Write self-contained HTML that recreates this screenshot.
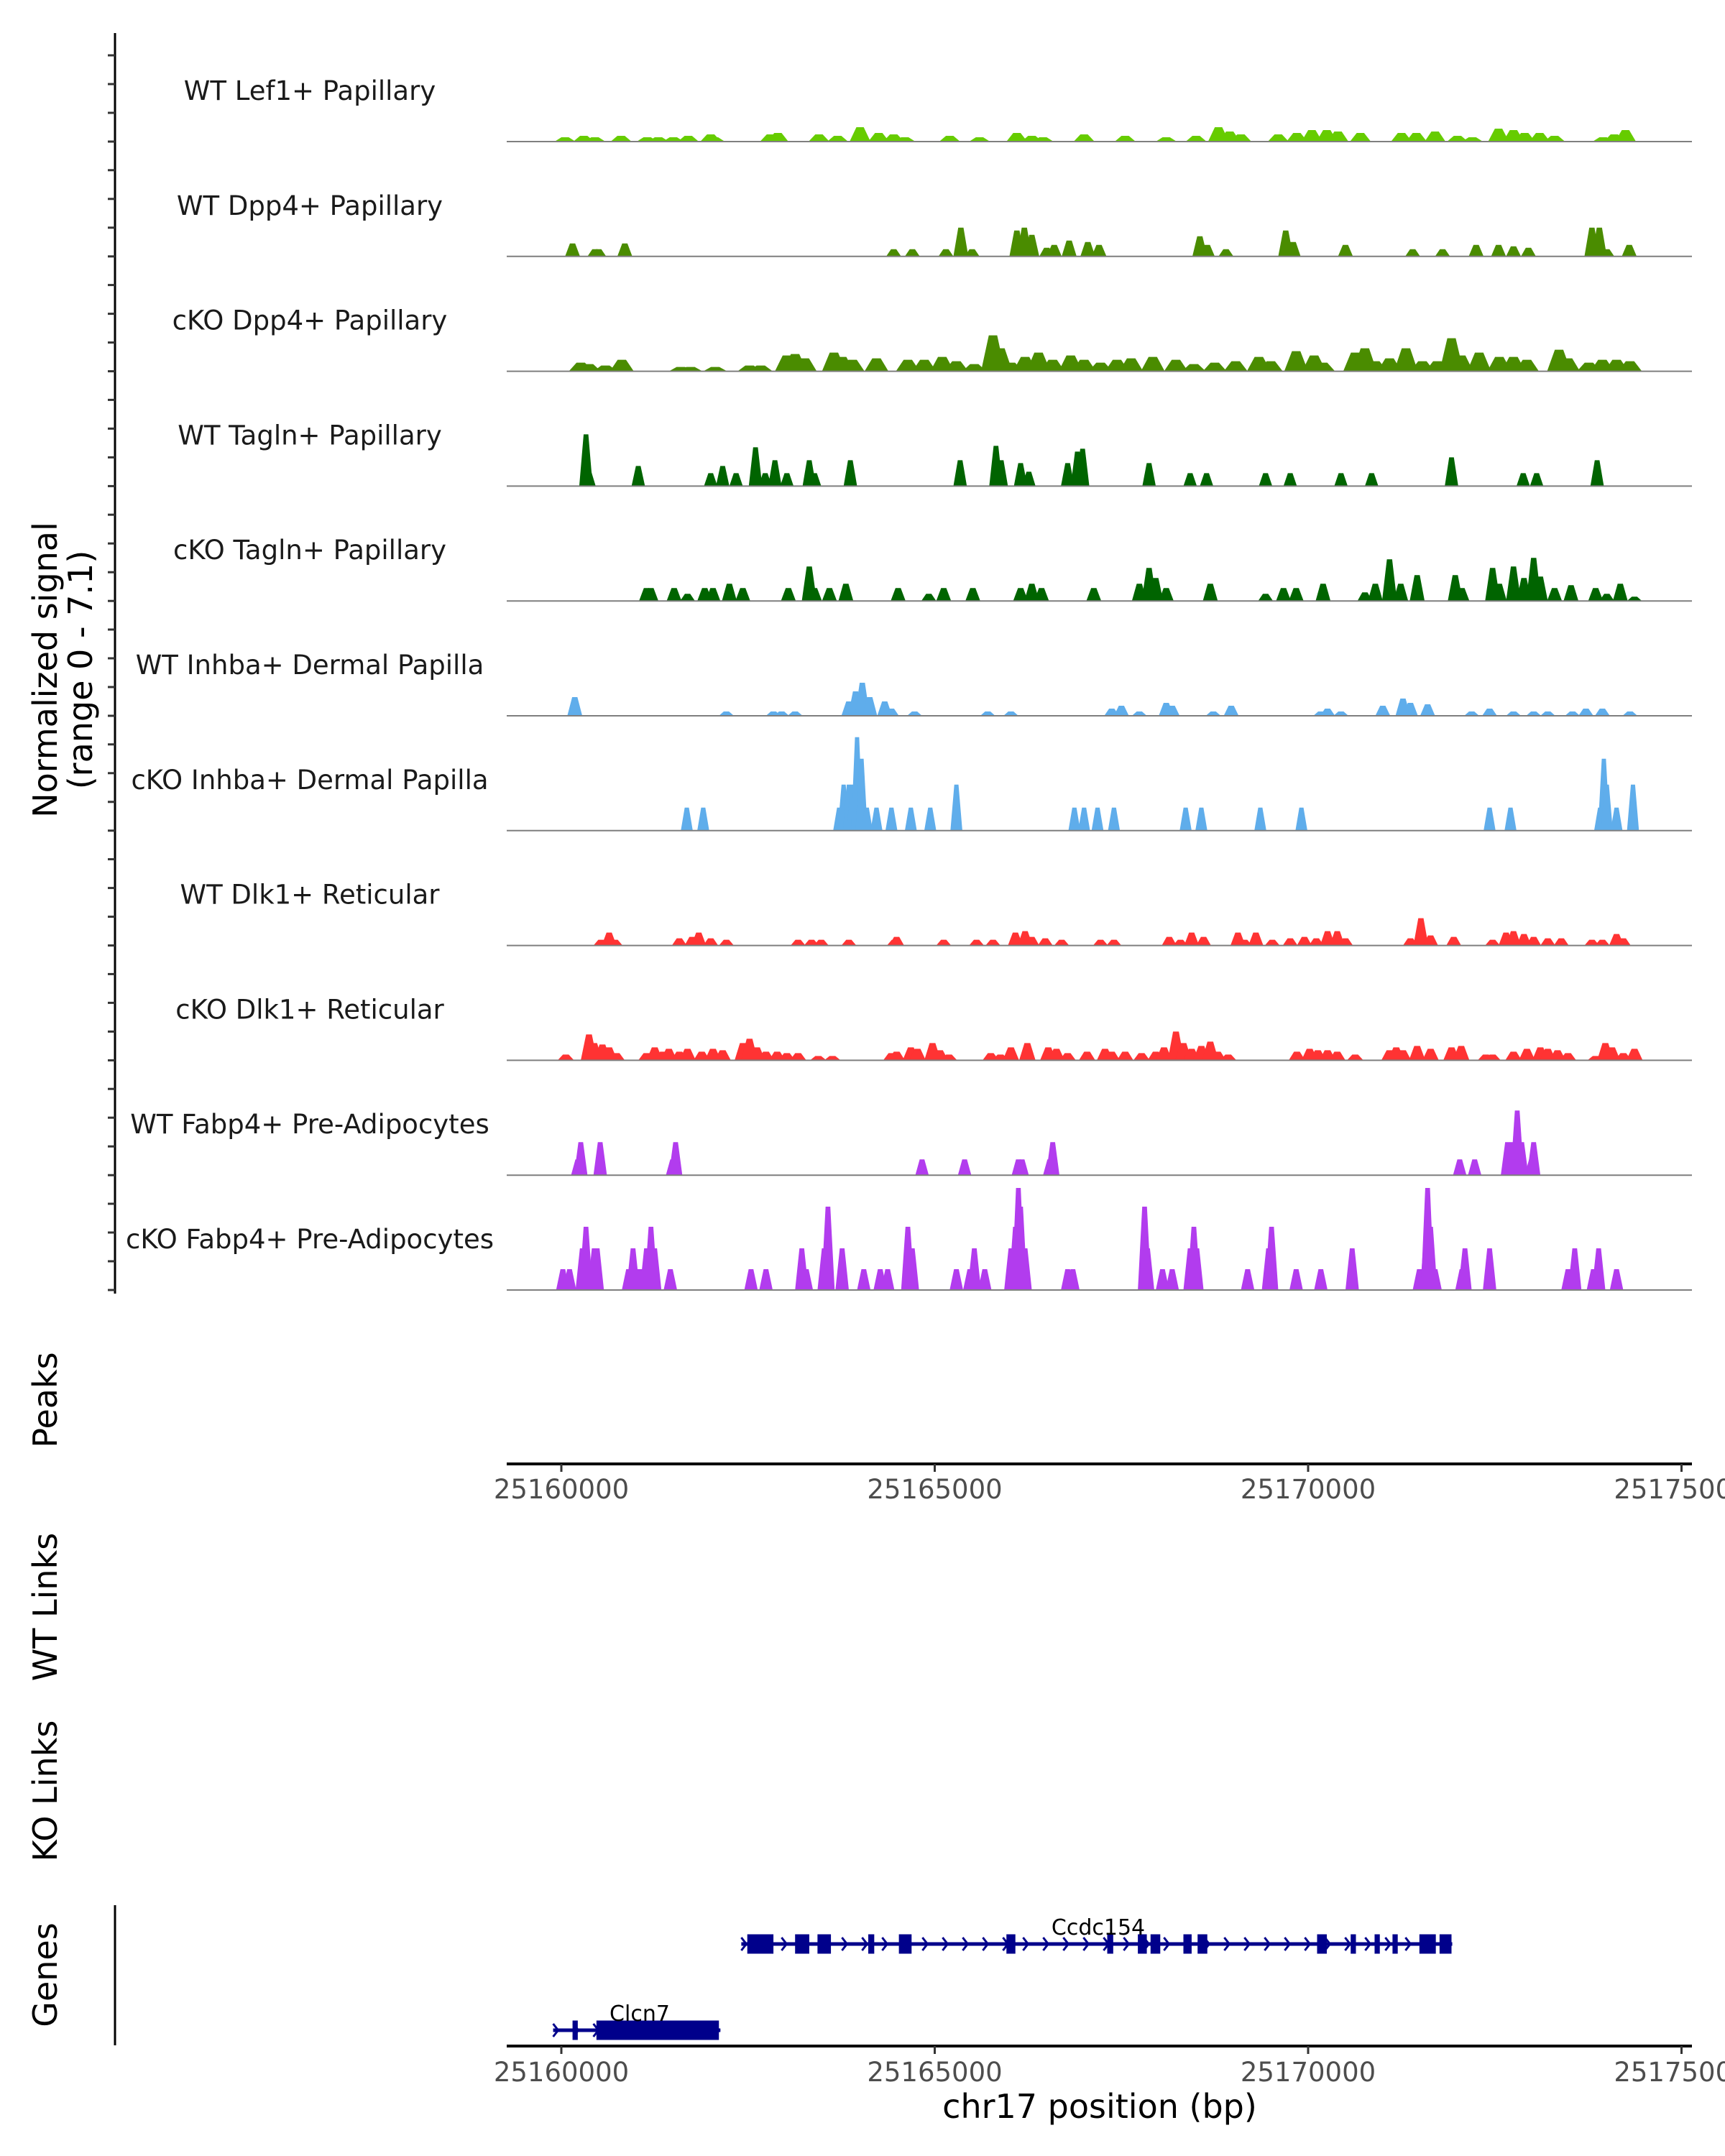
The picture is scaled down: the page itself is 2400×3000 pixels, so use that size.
<!DOCTYPE html>
<html><head><meta charset="utf-8"><style>
html,body{margin:0;padding:0;background:#fff;}
svg{display:block;font-family:"DejaVu Sans","Liberation Sans",sans-serif;}
</style></head>
<body>
<svg id="chart" width="2400" height="3000" viewBox="0 0 2400 3000" xmlns="http://www.w3.org/2000/svg">
<g id="axes"></g>
<g id="tracks"></g>
<g id="genes"></g>
<text transform="translate(79,932) rotate(-90)" text-anchor="middle" font-size="46" fill="#000">Normalized signal</text>
<text transform="translate(128,932) rotate(-90)" text-anchor="middle" font-size="46" fill="#000">(range 0 - 7.1)</text>
<text transform="translate(79,1948) rotate(-90)" text-anchor="middle" font-size="46" fill="#000">Peaks</text>
<text transform="translate(79,2236) rotate(-90)" text-anchor="middle" font-size="46" fill="#000">WT Links</text>
<text transform="translate(79,2492) rotate(-90)" text-anchor="middle" font-size="46" fill="#000">KO Links</text>
<text transform="translate(79,2748) rotate(-90)" text-anchor="middle" font-size="46" fill="#000">Genes</text>
<text x="1530" y="2947" text-anchor="middle" font-size="46" fill="#000">chr17 position (bp)</text>
</svg>
<script>
// ---- data (positions in kb from 25,160,000; heights in normalized signal) ----
const trackNames = ["WT Lef1+ Papillary","WT Dpp4+ Papillary","cKO Dpp4+ Papillary","WT Tagln+ Papillary","cKO Tagln+ Papillary","WT Inhba+ Dermal Papilla","cKO Inhba+ Dermal Papilla","WT Dlk1+ Reticular","cKO Dlk1+ Reticular","WT Fabp4+ Pre-Adipocytes","cKO Fabp4+ Pre-Adipocytes"];
const t1Pos = [0.05,0.3,0.45,0.8,1.15,1.3,1.5,1.7,2.0,2.05,2.8,2.9,3.45,3.7,4.0,4.25,4.45,4.6,5.2,5.6,6.1,6.3,6.45,7.0,7.55,8.1,8.5,8.8,8.95,9.1,9.6,9.85,10.05,10.25,10.4,10.7,11.25,11.45,11.7,12.0,12.2,12.55,12.75,12.9,13.1,13.3,13.95,14.1,14.25];
const t1Val = [0.3,0.4,0.3,0.4,0.3,0.3,0.3,0.4,0.5,0.3,0.5,0.6,0.5,0.4,1.0,0.6,0.5,0.3,0.4,0.3,0.6,0.4,0.3,0.5,0.4,0.3,0.4,1.0,0.7,0.5,0.5,0.6,0.8,0.8,0.7,0.6,0.6,0.6,0.7,0.4,0.3,0.9,0.8,0.6,0.6,0.4,0.3,0.5,0.8];
const t2Pos = [0.15,0.45,0.5,0.85,4.45,4.7,5.15,5.35,5.5,6.1,6.2,6.3,6.5,6.6,6.8,7.05,7.2,8.55,8.65,8.9,9.7,9.8,10.5,11.4,11.8,12.25,12.55,12.75,12.95,13.8,13.9,14.0,14.3];
const t2Val = [0.9,0.5,0.5,0.9,0.5,0.5,0.5,2.0,0.5,1.8,2.0,1.5,0.6,0.8,1.1,1.0,0.8,1.4,0.8,0.5,1.8,1.0,0.8,0.5,0.5,0.8,0.8,0.7,0.6,2.0,2.0,0.5,0.8];
const t3Pos = [0.26,0.37,0.59,0.81,1.6,1.73,2.06,2.52,2.67,3.02,3.13,3.26,3.65,3.76,3.9,4.22,4.64,4.86,5.1,5.29,5.53,5.78,5.88,6.02,6.21,6.39,6.58,6.82,7.0,7.22,7.44,7.63,7.92,8.23,8.47,8.75,9.03,9.34,9.5,9.84,10.08,10.2,10.63,10.76,10.9,11.09,11.31,11.53,11.73,11.92,12.05,12.29,12.56,12.75,12.93,13.36,13.48,13.76,13.94,14.13,14.31];
const t3Val = [0.6,0.5,0.4,0.8,0.3,0.3,0.3,0.4,0.4,1.1,1.2,0.9,1.3,1.0,0.8,0.9,0.8,0.8,1.0,0.7,0.5,2.5,1.6,0.6,1.0,1.3,0.8,1.1,0.8,0.6,0.8,0.9,1.0,0.8,0.5,0.6,0.7,1.0,0.7,1.4,1.1,0.6,1.3,1.6,0.7,0.9,1.6,0.7,0.7,2.3,1.1,1.3,1.0,1.0,0.8,1.5,0.9,0.6,0.8,0.8,0.7];
const t4Pos = [0.33,0.37,1.03,2.0,2.16,2.34,2.6,2.73,2.86,3.02,3.32,3.39,3.87,5.34,5.82,5.89,6.15,6.26,6.78,6.91,6.98,7.87,8.42,8.64,9.43,9.76,10.44,10.85,11.92,12.88,13.06,13.87];
const t4Val = [3.6,1.0,1.4,0.9,1.4,0.9,2.7,0.9,1.8,0.9,1.8,0.9,1.8,1.8,2.8,1.8,1.6,1.0,1.6,2.4,2.6,1.6,0.9,0.9,0.9,0.9,0.9,0.9,2.0,0.9,0.9,1.8];
const t5Pos = [1.14,1.2,1.51,1.69,1.92,2.03,2.25,2.43,3.04,3.32,3.39,3.59,3.81,4.51,4.92,5.12,5.51,6.15,6.3,6.43,7.13,7.74,7.87,7.96,8.1,8.69,9.43,9.67,9.84,10.2,10.76,10.9,11.09,11.24,11.46,11.97,12.06,12.47,12.56,12.75,12.89,13.02,13.11,13.3,13.52,13.85,14.0,14.18,14.37];
const t5Val = [0.9,0.9,0.9,0.5,0.9,0.9,1.2,0.9,0.9,2.4,0.9,0.9,1.2,0.9,0.5,0.9,0.9,0.9,1.2,0.9,0.9,1.2,2.3,1.6,0.9,1.2,0.5,0.9,0.9,1.2,0.6,1.2,2.9,1.2,1.8,1.8,0.9,2.3,1.2,2.4,1.6,3.0,1.7,0.9,1.1,0.9,0.5,1.2,0.3];
const t6Pos = [0.18,2.21,2.84,2.95,3.13,3.85,3.94,4.03,4.13,4.33,4.42,4.73,5.71,6.02,7.37,7.5,7.74,8.1,8.18,8.73,8.97,10.17,10.26,10.44,11.0,11.27,11.37,11.6,12.19,12.43,12.75,13.02,13.21,13.54,13.72,13.94,14.31];
const t6Val = [1.3,0.3,0.3,0.3,0.3,1.0,1.7,2.3,1.3,1.0,0.5,0.3,0.3,0.3,0.5,0.7,0.3,0.9,0.7,0.3,0.7,0.3,0.5,0.3,0.7,1.2,0.9,0.8,0.3,0.5,0.3,0.3,0.3,0.3,0.5,0.5,0.3];
const t7Pos = [1.68,1.9,3.72,3.78,3.85,3.9,3.96,4.02,4.09,4.22,4.42,4.68,4.94,5.29,6.87,7.0,7.18,7.4,8.36,8.57,9.36,9.91,12.43,12.71,13.91,13.96,14.0,14.13,14.35];
const t7Val = [1.6,1.6,1.6,3.2,3.2,3.2,6.5,5.0,1.6,1.6,1.6,1.6,1.6,3.2,1.6,1.6,1.6,1.6,1.6,1.6,1.6,1.6,1.6,1.6,1.6,5.0,3.2,1.6,3.2];
const t8Pos = [0.53,0.64,0.72,1.58,1.75,1.84,2.0,2.21,3.17,3.35,3.48,3.85,4.46,4.49,5.12,5.56,5.78,6.08,6.21,6.3,6.48,6.7,7.22,7.4,8.14,8.29,8.44,8.6,9.06,9.15,9.3,9.52,9.76,9.95,10.11,10.26,10.39,10.5,11.37,11.51,11.64,11.95,12.47,12.65,12.75,12.89,13.02,13.21,13.39,13.8,13.94,14.13,14.22];
const t8Val = [0.4,0.9,0.4,0.5,0.6,0.9,0.5,0.4,0.4,0.4,0.4,0.4,0.4,0.6,0.4,0.4,0.4,0.9,1.0,0.6,0.5,0.4,0.4,0.4,0.6,0.4,0.9,0.6,0.9,0.4,0.9,0.4,0.5,0.6,0.5,1.0,1.0,0.5,0.5,1.9,0.7,0.6,0.4,0.9,1.0,0.8,0.6,0.5,0.5,0.4,0.4,0.8,0.5];
const t9Pos = [0.06,0.37,0.44,0.55,0.64,0.74,1.14,1.25,1.36,1.44,1.58,1.69,1.88,2.03,2.16,2.43,2.52,2.62,2.74,2.89,3.02,3.17,3.44,3.63,4.42,4.49,4.68,4.77,4.97,5.07,5.19,5.75,5.88,6.02,6.24,6.52,6.63,6.78,7.04,7.28,7.37,7.55,7.77,7.96,8.07,8.23,8.33,8.44,8.57,8.69,8.79,8.93,9.85,10.02,10.13,10.26,10.39,10.63,11.09,11.18,11.27,11.46,11.64,11.92,12.05,12.38,12.47,12.75,12.93,13.11,13.21,13.34,13.48,13.85,13.98,14.07,14.22,14.37];
const t9Val = [0.4,1.8,1.2,1.1,0.9,0.5,0.5,0.9,0.6,0.8,0.6,0.8,0.6,0.8,0.7,1.2,1.5,0.9,0.6,0.6,0.5,0.5,0.3,0.3,0.5,0.6,0.9,0.8,1.2,0.7,0.4,0.5,0.4,0.9,1.2,0.9,0.8,0.5,0.6,0.8,0.6,0.6,0.5,0.6,0.9,2.0,1.2,0.8,1.0,1.3,0.6,0.4,0.6,0.8,0.7,0.7,0.6,0.4,0.7,0.9,0.7,1.0,0.8,0.9,1.0,0.4,0.4,0.6,0.8,0.9,0.8,0.7,0.5,0.3,1.2,0.9,0.5,0.8];
const t10Pos = [0.22,0.26,0.52,1.49,1.53,4.83,5.4,6.12,6.17,6.54,6.58,12.03,12.23,12.67,12.73,12.8,12.86,12.99,13.02];
const t10Val = [1.1,2.3,2.3,1.1,2.3,1.1,1.1,1.1,1.1,1.1,2.3,1.1,1.1,2.3,2.3,4.5,2.3,1.1,2.3];
const t11Pos = [0.02,0.11,0.28,0.33,0.44,0.48,0.9,0.96,1.05,1.14,1.2,1.25,1.46,2.54,2.74,3.22,3.28,3.52,3.57,3.76,4.05,4.27,4.37,4.64,4.7,5.29,5.47,5.53,5.67,6.02,6.08,6.12,6.15,6.21,6.78,6.85,7.81,7.85,8.05,8.18,8.42,8.47,8.51,9.19,9.47,9.51,9.84,10.17,10.59,11.49,11.59,11.6,11.64,11.7,12.06,12.1,12.43,13.48,13.57,13.82,13.89,14.13];
const t11Val = [1.45,1.45,2.9,4.4,2.9,2.9,1.45,2.9,1.45,2.9,4.4,2.9,1.45,1.45,1.45,2.9,1.45,2.9,5.8,2.9,1.45,1.45,1.45,4.4,2.9,1.45,1.45,2.9,1.45,2.9,4.4,7.1,5.8,2.9,1.45,1.45,5.8,2.9,1.45,1.45,2.9,4.4,2.9,1.45,2.9,4.4,1.45,1.45,2.9,1.45,4.4,7.1,4.4,1.45,1.45,2.9,2.9,1.45,2.9,1.45,2.9,1.45];
const xTicks = [25160000,25165000,25170000,25175000];
const ccdcExonStart = [2.49,3.13,3.43,4.11,4.52,5.96,7.31,7.72,7.89,8.33,8.52,10.12,10.57,10.89,11.13,11.49,11.76];
const ccdcExonEnd   = [2.84,3.32,3.61,4.19,4.69,6.08,7.39,7.84,8.02,8.44,8.65,10.25,10.64,10.96,11.2,11.71,11.92];
const ccdcSpan = [2.41,11.93];
const clcnExonStart = [0.15,0.47];
const clcnExonEnd = [0.22,2.11];
const clcnSpan = [-0.11,2.13];

const positions = [t1Pos,t2Pos,t3Pos,t4Pos,t5Pos,t6Pos,t7Pos,t8Pos,t9Pos,t10Pos,t11Pos];
const values = [t1Val,t2Val,t3Val,t4Val,t5Val,t6Val,t7Val,t8Val,t9Val,t10Val,t11Val];
const colors = ["#66cc00","#4a8c00","#4a8c00","#006400","#006400","#5fadeb","#5fadeb","#ff3333","#ff3333","#b23cee","#b23cee"];
const widths = [0.14,0.1,0.16,0.09,0.1,0.1,0.08,0.1,0.11,0.09,0.09];

const NS="http://www.w3.org/2000/svg";
function mk(tag,attrs,parent){const e=document.createElementNS(NS,tag);for(const k in attrs)e.setAttribute(k,attrs[k]);parent.appendChild(e);return e;}
const X0=705, X1=2354;
function xs(kb){return 781+kb*103.9;}
function xbp(bp){return xs((bp-25160000)/1000);}
const base0=197, step=159.8, unit=20;
function ys(t,v){return base0+t*step - v*unit;}

const axes=document.getElementById('axes');
let yl=mk('line',{x1:160,y1:46,x2:160,y2:1800,stroke:'#000','stroke-width':3},axes);


for(let t=0;t<11;t++){for(let k=0;k<4;k++){const y=base0+t*step-k*40;const tk=mk('line',{x1:150,y1:y,x2:160,y2:y,stroke:'#333','stroke-width':3},axes);

}}
let gl=mk('line',{x1:160,y1:2651,x2:160,y2:2846,stroke:'#000','stroke-width':3},axes);


[[2037,2085,'peaks-x-axis'],[2847,2896,'x-axis']].forEach(([ay,ly,nm])=>{
 const l=mk('line',{x1:X0,y1:ay,x2:X1,y2:ay,stroke:'#000','stroke-width':4},axes);
 
 
 xTicks.forEach(v=>{const x=xbp(v);
  const tk=mk('line',{x1:x,y1:ay,x2:x,y2:ay+11,stroke:'#333','stroke-width':3},axes);
  
  
  const tx=mk('text',{x:x,y:ly,'text-anchor':'middle','font-size':37,fill:'#4d4d4d'},axes);tx.textContent=String(v);
  
  });
});

const tracks=document.getElementById('tracks');
trackNames.forEach((nm,t)=>{
 const g=mk('g',{},tracks);
 
 
 const by=base0+t*step;
 const lab=mk('text',{x:431,y:by-58,'text-anchor':'middle','font-size':37,fill:'#1a1a1a'},g);lab.textContent=nm;
 
 
 const w=widths[t];
 positions[t].forEach((p,i)=>{
  const v=values[t][i];
  const xl=xs(p-w), xr=xs(p+w), xtl=xs(p-w*0.35), xtr=xs(p+w*0.35), yt=ys(t,v);
  const pk=mk('polygon',{points:`${xl},${by} ${xtl},${yt} ${xtr},${yt} ${xr},${by}`,fill:colors[t]},g);
  
  
 });
 const bl=mk('line',{x1:X0,y1:by,x2:X1,y2:by,stroke:'#7f7f7f','stroke-width':2},g);
 
 
});

const genes=document.getElementById('genes');
function drawGene(name,span,es,ee,cy,labX,labY){
 const g=mk('g',{},genes);
 
 
 mk('line',{x1:xs(span[0]),y1:cy,x2:xs(span[1]),y2:cy,stroke:'#00008b','stroke-width':5},g);
 for(let x=xs(span[0])+4;x<xs(span[1]);x+=28){
  mk('polyline',{points:`${x-4},${cy-9} ${x+3},${cy} ${x-4},${cy+9}`,fill:'none',stroke:'#00008b','stroke-width':3},g);
 }
 es.forEach((s,i)=>{const ex=mk('rect',{x:xs(s),y:cy-13.5,width:xs(ee[i])-xs(s),height:27,fill:'#00008b'},g);
  
  });
 const t=mk('text',{x:labX,y:labY,'text-anchor':'middle','font-size':30,fill:'#000'},g);t.textContent=name;
 
 
}
drawGene('Ccdc154',ccdcSpan,ccdcExonStart,ccdcExonEnd,2705,1528,2692);
drawGene('Clcn7',clcnSpan,clcnExonStart,clcnExonEnd,2825,890,2812);
</script>
</body></html>
